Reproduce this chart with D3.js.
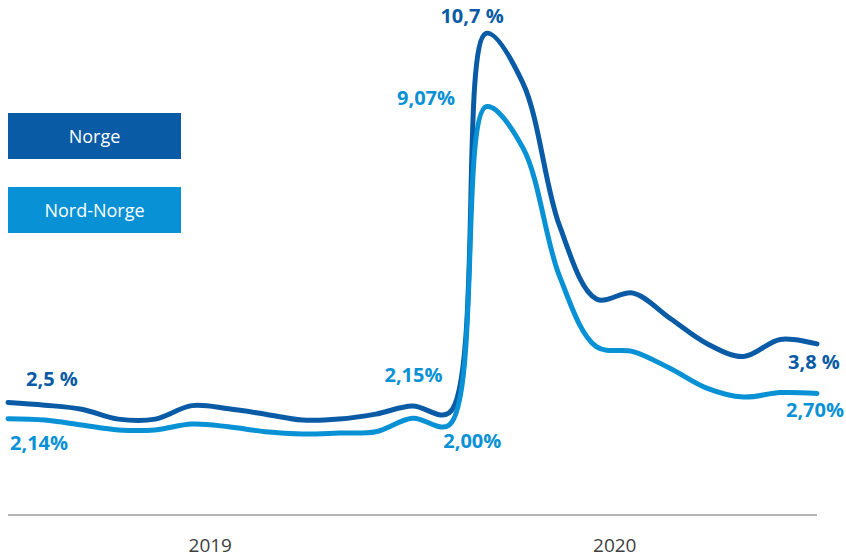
<!DOCTYPE html>
<html>
<head>
<meta charset="utf-8">
<script src="https://cdn.jsdelivr.net/npm/d3@7"></script>
<style>
  html, body { margin: 0; padding: 0; background: #ffffff; }
  svg { display: block; }
</style>
</head>
<body>
<svg id="chart" width="846" height="557"></svg>
<script>
// ---- data ----
const months = [
  "feb 2019","mar 2019","apr 2019","mai 2019","jun 2019","jul 2019","aug 2019","sep 2019","okt 2019","nov 2019","des 2019",
  "jan 2020","feb 2020","mar 2020","apr 2020","mai 2020","jun 2020","jul 2020","aug 2020","sep 2020","okt 2020","nov 2020","des 2020"
];
const seriesNames = ["Norge", "Nord-Norge"];
const norge = [2.50, 2.44, 2.35, 2.13, 2.13, 2.43, 2.36, 2.24, 2.11, 2.13, 2.24,
               2.42, 2.27, 10.70, 9.60, 6.42, 4.80, 4.93, 4.37, 3.81, 3.52, 3.90, 3.80];
const nordNorge = [2.14, 2.11, 2.00, 1.89, 1.89, 2.02, 1.96, 1.85, 1.80, 1.82, 1.85,
                   2.15, 2.00, 9.07, 8.16, 5.30, 3.74, 3.63, 3.26, 2.82, 2.62, 2.72, 2.70];
const years = ["2019", "2020"];
// value labels: series index, month index, text
const labelSeries = [0, 1, 1, 1, 0, 1, 0, 1];
const labelMonth  = [0, 0, 11, 12, 13, 13, 22, 22];
const labelText   = ["2,5 %", "2,14%", "2,15%", "2,00%", "10,7 %", "9,07%", "3,8 %", "2,70%"];

// ---- layout / style ----
const colors = ["#0a5ba6", "#0891d5"];
const labelOffsets = [[18,-16,"start"],[2,31,"start"],[1,-36,"middle"],[23,23,"middle"],
                      [-14,-10,"middle"],[-60,-2,"middle"],[-3,25,"middle"],[-2,23.5,"middle"]];
const font = "'Open Sans', 'DejaVu Sans', sans-serif";

const svg = d3.select("#chart");
const x = d3.scaleLinear().domain([0, months.length - 1]).range([8, 817]);
const y = d3.scaleLinear().domain([0, 11.44]).range([515, 0]);

const allSeries = [norge, nordNorge];

// axis line
svg.append("line")
  .attr("x1", x(0)).attr("x2", x(months.length - 1))
  .attr("y1", y(0)).attr("y2", y(0))
  .attr("stroke", "#6b6b6b").attr("stroke-width", 1);

// year labels: centred on span from first month of year to first month of next year (or last point)
years.forEach((yr, i) => {
  const idx = months.map((m, j) => m.endsWith(yr) ? j : -1).filter(j => j >= 0);
  const start = idx[0];
  const end = Math.min(idx[idx.length - 1] + 1, months.length - 1);
  svg.append("text")
    .attr("x", x((start + end) / 2))
    .attr("y", 552)
    .attr("text-anchor", "middle")
    .attr("font-family", font)
    .attr("font-size", 19)
    .attr("fill", "#404040")
    .text(yr);
});

// lines
const line = d3.line()
  .x((d, i) => x(i))
  .y(d => y(d))
  .curve(d3.curveCatmullRom.alpha(0.5));

allSeries.forEach((s, k) => {
  svg.append("path")
    .datum(s)
    .attr("d", line)
    .attr("fill", "none")
    .attr("stroke", colors[k])
    .attr("stroke-width", 5)
    .attr("stroke-linecap", "round")
    .attr("stroke-linejoin", "round");
});

// value labels
labelText.forEach((t, i) => {
  const s = labelSeries[i], m = labelMonth[i];
  const [dx, dy, anchor] = labelOffsets[i];
  svg.append("text")
    .attr("x", x(m) + dx)
    .attr("y", y(allSeries[s][m]) + dy)
    .attr("text-anchor", anchor)
    .attr("font-family", font)
    .attr("font-weight", "bold")
    .attr("font-size", 20)
    .attr("fill", colors[s])
    .text(t);
});

// legend
const legendTop = [113, 187];
seriesNames.forEach((name, k) => {
  svg.append("rect")
    .attr("x", 8).attr("y", legendTop[k])
    .attr("width", 173).attr("height", 46)
    .attr("fill", colors[k]);
  svg.append("text")
    .attr("x", 8 + 173 / 2)
    .attr("y", legendTop[k] + 30)
    .attr("text-anchor", "middle")
    .attr("font-family", font)
    .attr("font-size", 18)
    .attr("fill", "#ffffff")
    .text(name);
});
</script>
</body>
</html>
